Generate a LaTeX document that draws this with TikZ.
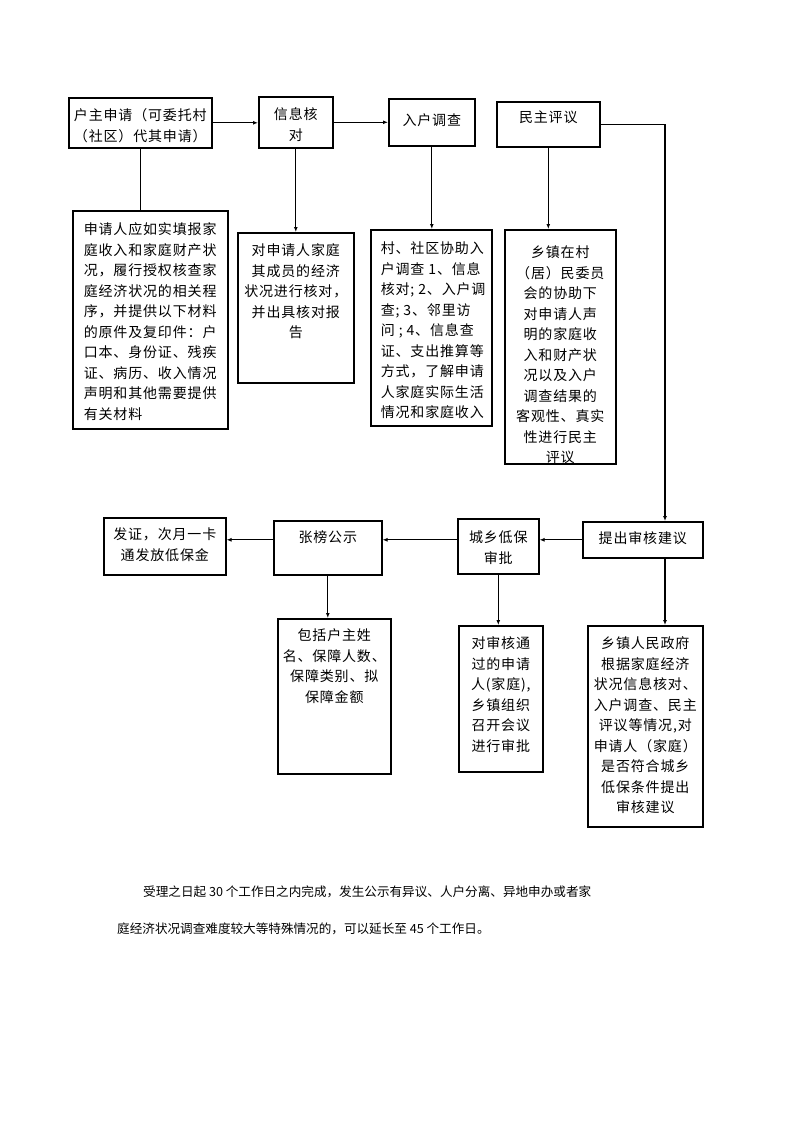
\documentclass[tikz,border=0pt]{standalone}
\usepackage{fontspec}
\setmainfont{Noto Sans CJK SC}
\newfontfamily\boxfont[LetterSpace=6]{Noto Sans CJK SC}
\usetikzlibrary{arrows.meta, positioning, calc}

% box contents: [first baseline]{width}{height}{alignment}{lines}
\newcommand{\cell}[5][23]{\parbox[c][#3pt][t]{#2pt}{#4\rule{0pt}{#1pt}#5}}

\begin{document}
\begin{tikzpicture}[x=1pt, y=-1pt,
    box/.style={draw, line width=1.6pt, inner sep=0pt, anchor=north west,
                font=\boxfont\fontsize{14}{20.5}\selectfont},
    link/.style={line width=1.1pt, -{Latex[length=5pt, width=4pt]}}]
            \useasboundingbox (0,0) rectangle (793,1122);

            %--- top row ---
            \node[box] (shenqing) at (68,97)   {\cell{143}{50}{\centering}{户主申请（可委托村\\（社区）代其申请）}};
            \node[box] (hedui)    at (258,96)  {\cell{74}{51}{\centering}{信息核\\对}};
            \node[box] (diaocha)  at (388,98)  {\cell[27]{86}{47}{\centering}{入户调查}};
            \node[box] (pingyi)   at (496,101) {\cell[21]{103}{45}{\centering}{民主评议}};

            %--- details of the top row ---
            \node[box] (cailiao)  at (72,210)  {\cell[24]{155}{218}{\raggedright\leftskip=11pt}{申请人应如实填报家\\庭收入和家庭财产状\\况，履行授权核查家\\庭经济状况的相关程\\序，并提供以下材料\\的原件及复印件：户\\口本、身份证、残疾\\证、病历、收入情况\\声明和其他需要提供\\有关材料}};
            \node[box] (heduid)   at (237,232) {\cell{116}{150}{\centering}{对申请人家庭\\其成员的经济\\状况进行核对，\\并出具核对报\\告}};
            \node[box] (diaochad) at (370,229) {\cell[24]{121}{196}{\raggedright\leftskip=10pt}{村、社区协助入\\户调查 1、信息\\核对; 2、入户调\\查; 3、邻里访\\问 ; 4、信息查\\证、支出推算等\\方式，了解申请\\人家庭实际生活\\情况和家庭收入}};
            \node[box] (pingyid)  at (504,229) {\cell[28]{111}{234}{\centering}{乡镇在村\\（居）民委员\\会的协助下\\对申请人声\\明的家庭收\\入和财产状\\况以及入户\\调查结果的\\客观性、真实\\性进行民主\\评议}};

            %--- bottom row (right to left) ---
            \node[box] (jianyi)   at (582,521) {\cell[22]{120}{36}{\centering}{提出审核建议}};
            \node[box] (shenpi)   at (457,518) {\cell[24]{81}{55}{\centering}{城乡低保\\审批}};
            \node[box] (gongshi)  at (273,520) {\cell[22]{108}{54}{\centering}{张榜公示}};
            \node[box] (fazheng)  at (103,517) {\cell[22]{122}{57}{\centering}{发证，次月一卡\\通发放低保金}};

            %--- details of the bottom row ---
            \node[box] (jianyid)  at (587,625) {\cell{115}{201}{\centering}{乡镇人民政府\\根据家庭经济\\状况信息核对、\\入户调查、民主\\评议等情况,对\\申请人（家庭）\\是否符合城乡\\低保条件提出\\审核建议}};
            \node[box] (shenpid)  at (458,625) {\cell{84}{146}{\centering}{对审核通\\过的申请\\人(家庭),\\乡镇组织\\召开会议\\进行审批}};
            \node[box] (gongshid) at (277,618) {\cell[22]{113}{155}{\centering}{包括户主姓\\名、保障人数、\\保障类别、拟\\保障金额}};

            % x of the long rail on the right
            \coordinate (bend) at (665,0);

            %---- top row links
            \draw[line width=1.1pt] (shenqing.south) -- (shenqing.south |- cailiao.north);
            \draw[link] (shenqing.east) -- (shenqing.east -| hedui.west);
            \draw[link] (hedui.east) -- (hedui.east -| diaocha.west);
            \draw[link] (hedui.south) -- (hedui.south |- heduid.north);
            \draw[link] (diaocha.south) -- (diaocha.south |- diaochad.north);
            \draw[link] (pingyi.south) -- (pingyi.south |- pingyid.north);

            %---- rail down to the bottom row
            \draw[link] (pingyi.east) -| (bend |- jianyi.north);

            %---- bottom row links
            \draw[link] (jianyi.west) -- (jianyi.west -| shenpi.east);
            \draw[link] (shenpi.west |- jianyi.west) -- (gongshi.east |- jianyi.west);
            \draw[link] (gongshi.west |- jianyi.west) -- (fazheng.east |- jianyi.west);
            \draw[link] (gongshi.south) -- (gongshi.south |- gongshid.north);
            \draw[link] (shenpi.south) -- (shenpi.south |- shenpid.north);
            \draw[link] (bend |- jianyi.south) -- (bend |- jianyid.north);

            %--- note under the chart ---
            \node[anchor=north west, inner sep=0pt, align=left, font=\fontsize{12.6}{37}\selectfont] (note) at (117,886)
                {\hspace*{26pt}受理之日起 30 个工作日之内完成，发生公示有异议、人户分离、异地申办或者家\\庭经济状况调查难度较大等特殊情况的，可以延长至 45 个工作日。};
\end{tikzpicture}
\end{document}
